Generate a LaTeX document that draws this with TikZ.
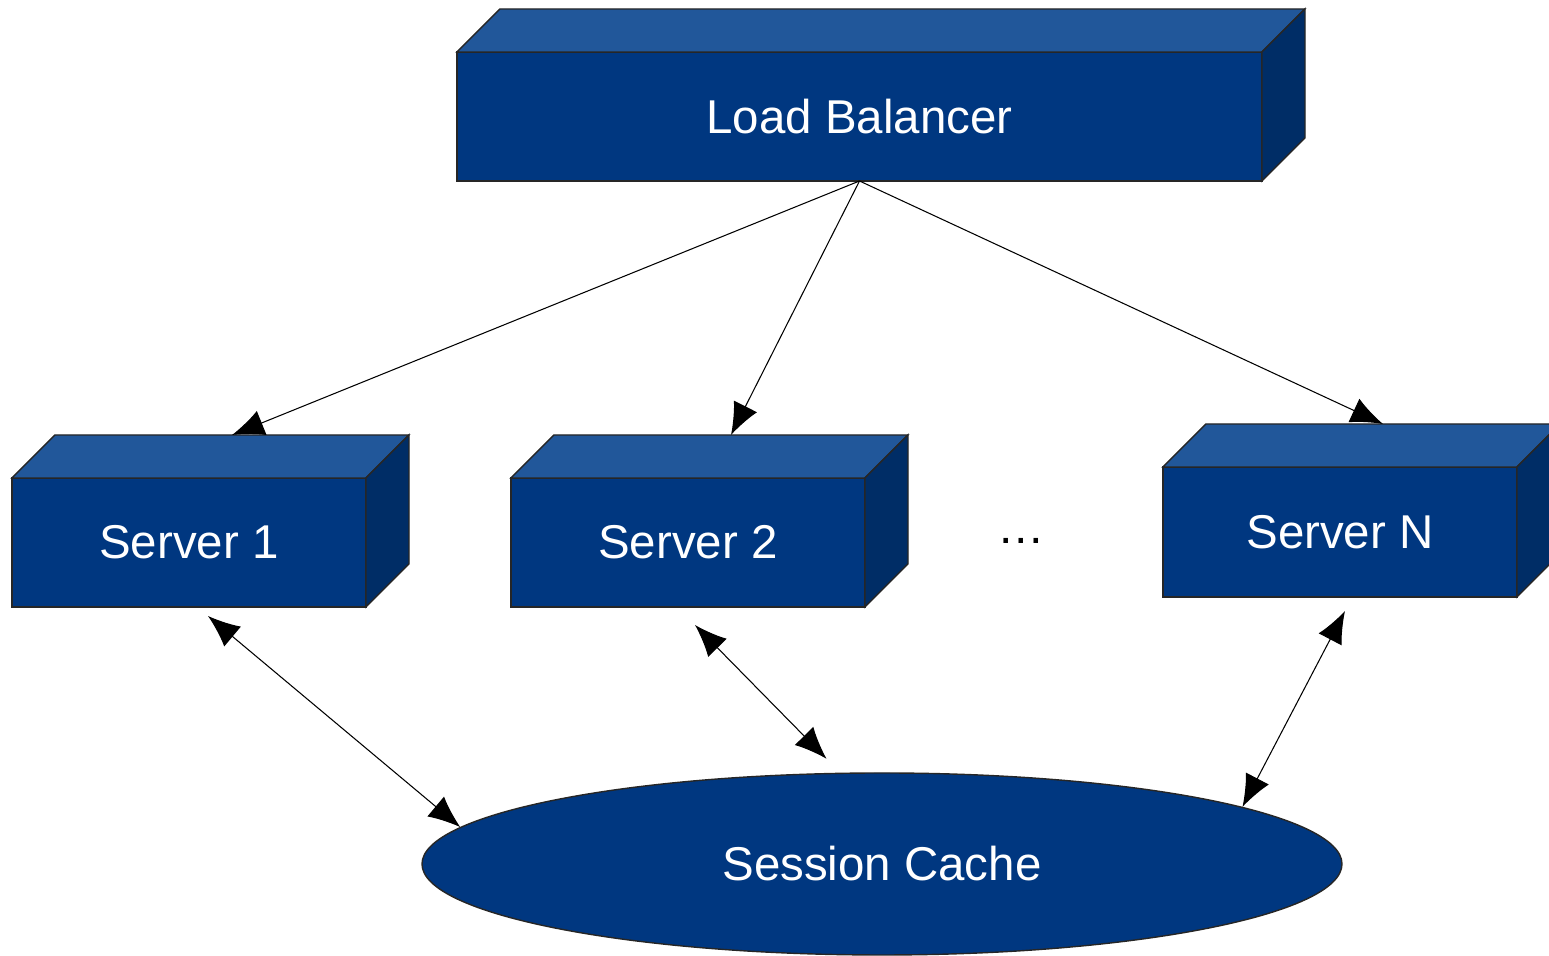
\documentclass[tikz,border=0pt]{standalone}
\usepackage{fontspec}
\setmainfont{Liberation Sans}
\usepackage{tikz}
\usetikzlibrary{shapes,arrows.meta,positioning}

\definecolor{boxfront}{RGB}{0,55,128}
\definecolor{boxtopc}{RGB}{33,87,154}
\definecolor{boxsidec}{RGB}{0,45,102}

% top and side faces of a box node, plus a coordinate on its back top edge
\newcommand{\boxdepth}[1]{%
  \filldraw[boxtop] (#1.north west) -- ++(0.43,0.43) -- ([shift={(0.43,0.43)}]#1.north east) -- (#1.north east) -- cycle;
  \filldraw[boxside] (#1.north east) -- ++(0.43,0.43) -- ([shift={(0.43,0.43)}]#1.south east) -- (#1.south east) -- cycle;
  \coordinate (#1-top) at ([shift={(0.43,0.43)}]#1.north);
}

\begin{document}
\begin{tikzpicture}[
    box/.style={rectangle, draw=black!85, line width=0.4pt, fill=boxfront, text=white, inner sep=0pt, outer sep=0pt,
        minimum width=3.54cm, minimum height=1.29cm, font=\fontsize{13.5}{16}\selectfont},
    boxtop/.style={draw=black!85, line width=0.4pt, fill=boxtopc},
    boxside/.style={draw=black!85, line width=0.4pt, fill=boxsidec},
    cache/.style={ellipse, draw=black!85, line width=0.4pt, fill=boxfront, text=white, inner sep=0pt,
        minimum width=9.2cm, minimum height=1.82cm, font=\fontsize{13.5}{16}\selectfont},
    arrow/.style={-{Latex[length=3.2mm, width=2.6mm]}, line width=0.3pt},
    twoway/.style={{Latex[length=3.2mm, width=2.6mm]}-{Latex[length=3.2mm, width=2.6mm]}, line width=0.3pt}]

    \useasboundingbox (0,0) rectangle (15.49,9.56);

    \node[box, minimum width=8.05cm] (lb) at (8.595,8.395) {Load Balancer};
    \boxdepth{lb}

    \node[box] (srv1) at (1.89,4.135) {Server 1};
    \boxdepth{srv1}
    \node[box] (srv2) at (6.88,4.135) {Server 2};
    \boxdepth{srv2}
    \node[box, minimum height=1.30cm] (srvn) at (13.40,4.24) {Server N};
    \boxdepth{srvn}

    \node[font=\fontsize{13.5}{16}\selectfont] (dots) at (10.21,4.15) {…};

    \node[cache] (cache) at (8.82,0.92) {Session Cache};

    \draw[arrow] (lb.south) -- (srv1-top);
    \draw[arrow] (lb.south) -- (srv2-top);
    \draw[arrow] (lb.south) -- (srvn-top);

    \coordinate (cache-top) at ([shift={(-0.07,0.14)}]cache.118);
    \draw[twoway] ([shift={(0.19,-0.09)}]srv1.south) -- (cache.175);
    \draw[twoway] ([shift={(0.07,-0.18)}]srv2.south) -- (cache-top);
    \draw[twoway] ([shift={(0.05,-0.14)}]srvn.south) -- (cache.9);

\end{tikzpicture}
\end{document}
